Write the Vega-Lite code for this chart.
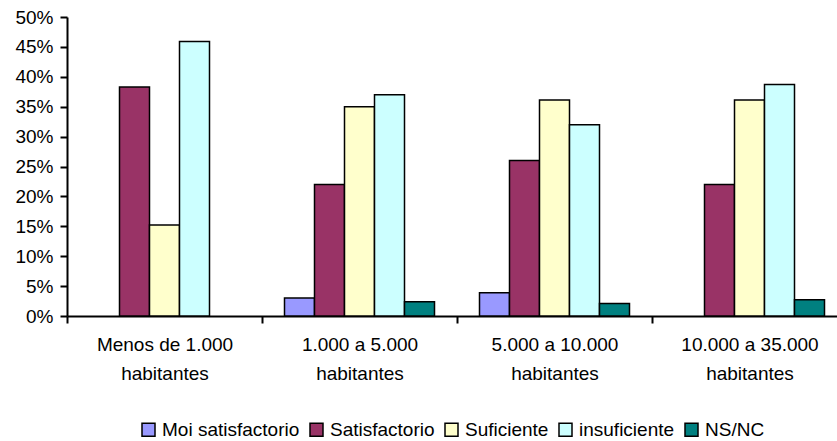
{
  "$schema": "https://vega.github.io/schema/vega-lite/v6.json",
  "autosize": {"type": "none"},
  "width": 780,
  "height": 299,
  "padding": {"left": 67, "top": 17, "right": 0, "bottom": 125},
  "background": "white",
  "config": {
    "font": "Liberation Sans",
    "view": {"stroke": null},
    "axis": {"labelFont": "Liberation Sans", "labelColor": "black", "domainColor": "black", "tickColor": "black", "domainWidth": 2, "tickWidth": 2, "grid": false, "labelOverlap": false}
  },
  "data": {
    "values": [
      {"grupo": "Menos de 1.000 habitantes", "serie": "Moi satisfactorio", "valor": 0},
      {"grupo": "Menos de 1.000 habitantes", "serie": "Satisfactorio", "valor": 0.383},
      {"grupo": "Menos de 1.000 habitantes", "serie": "Suficiente", "valor": 0.152},
      {"grupo": "Menos de 1.000 habitantes", "serie": "insuficiente", "valor": 0.459},
      {"grupo": "Menos de 1.000 habitantes", "serie": "NS/NC", "valor": 0},
      {"grupo": "1.000 a 5.000 habitantes", "serie": "Moi satisfactorio", "valor": 0.030},
      {"grupo": "1.000 a 5.000 habitantes", "serie": "Satisfactorio", "valor": 0.220},
      {"grupo": "1.000 a 5.000 habitantes", "serie": "Suficiente", "valor": 0.350},
      {"grupo": "1.000 a 5.000 habitantes", "serie": "insuficiente", "valor": 0.370},
      {"grupo": "1.000 a 5.000 habitantes", "serie": "NS/NC", "valor": 0.024},
      {"grupo": "5.000 a 10.000 habitantes", "serie": "Moi satisfactorio", "valor": 0.039},
      {"grupo": "5.000 a 10.000 habitantes", "serie": "Satisfactorio", "valor": 0.260},
      {"grupo": "5.000 a 10.000 habitantes", "serie": "Suficiente", "valor": 0.361},
      {"grupo": "5.000 a 10.000 habitantes", "serie": "insuficiente", "valor": 0.320},
      {"grupo": "5.000 a 10.000 habitantes", "serie": "NS/NC", "valor": 0.021},
      {"grupo": "10.000 a 35.000 habitantes", "serie": "Moi satisfactorio", "valor": 0},
      {"grupo": "10.000 a 35.000 habitantes", "serie": "Satisfactorio", "valor": 0.220},
      {"grupo": "10.000 a 35.000 habitantes", "serie": "Suficiente", "valor": 0.361},
      {"grupo": "10.000 a 35.000 habitantes", "serie": "insuficiente", "valor": 0.387},
      {"grupo": "10.000 a 35.000 habitantes", "serie": "NS/NC", "valor": 0.027}
    ]
  },
  "transform": [{"filter": "datum.valor > 0"}],
  "mark": {"type": "bar", "stroke": "black", "strokeWidth": 1.5},
  "encoding": {
    "x": {
      "field": "grupo", "type": "nominal", "sort": null, "title": null,
      "scale": {"paddingInner": 0, "paddingOuter": 0},
      "axis": {"labelAngle": 0, "tickBand": "extent", "tickSize": 7, "labelFontSize": 19, "labelPadding": 12, "labelLineHeight": 29,
        "labelExpr": "datum.label ? [replace(datum.label, ' habitantes', ''), 'habitantes'] : ''"}
    },
    "xOffset": {"field": "serie", "type": "nominal", "sort": ["Moi satisfactorio", "Satisfactorio", "Suficiente", "insuficiente", "NS/NC"], "scale": {"domain": ["Moi satisfactorio", "Satisfactorio", "Suficiente", "insuficiente", "NS/NC"], "paddingInner": 0, "paddingOuter": 0.75}},
    "y": {
      "field": "valor", "type": "quantitative", "title": null,
      "scale": {"domain": [0, 0.5], "nice": false},
      "axis": {"format": ".0%", "values": [0, 0.05, 0.1, 0.15, 0.2, 0.25, 0.3, 0.35, 0.4, 0.45, 0.5], "tickSize": 7, "labelFontSize": 19, "labelPadding": 7}
    },
    "color": {
      "field": "serie", "type": "nominal",
      "sort": ["Moi satisfactorio", "Satisfactorio", "Suficiente", "insuficiente", "NS/NC"],
      "scale": {"domain": ["Moi satisfactorio", "Satisfactorio", "Suficiente", "insuficiente", "NS/NC"], "range": ["#9999FF", "#993366", "#FFFFCC", "#CCFFFF", "#008080"]},
      "legend": {"title": null, "orient": "none", "legendX": 72, "legendY": 403, "direction": "horizontal", "symbolType": "square", "symbolSize": 169, "symbolStrokeColor": "black", "symbolStrokeWidth": 1.5, "labelFontSize": 19, "labelColor": "black", "labelOffset": 4, "columnPadding": 7, "symbolOpacity": 1}
    }
  }
}
